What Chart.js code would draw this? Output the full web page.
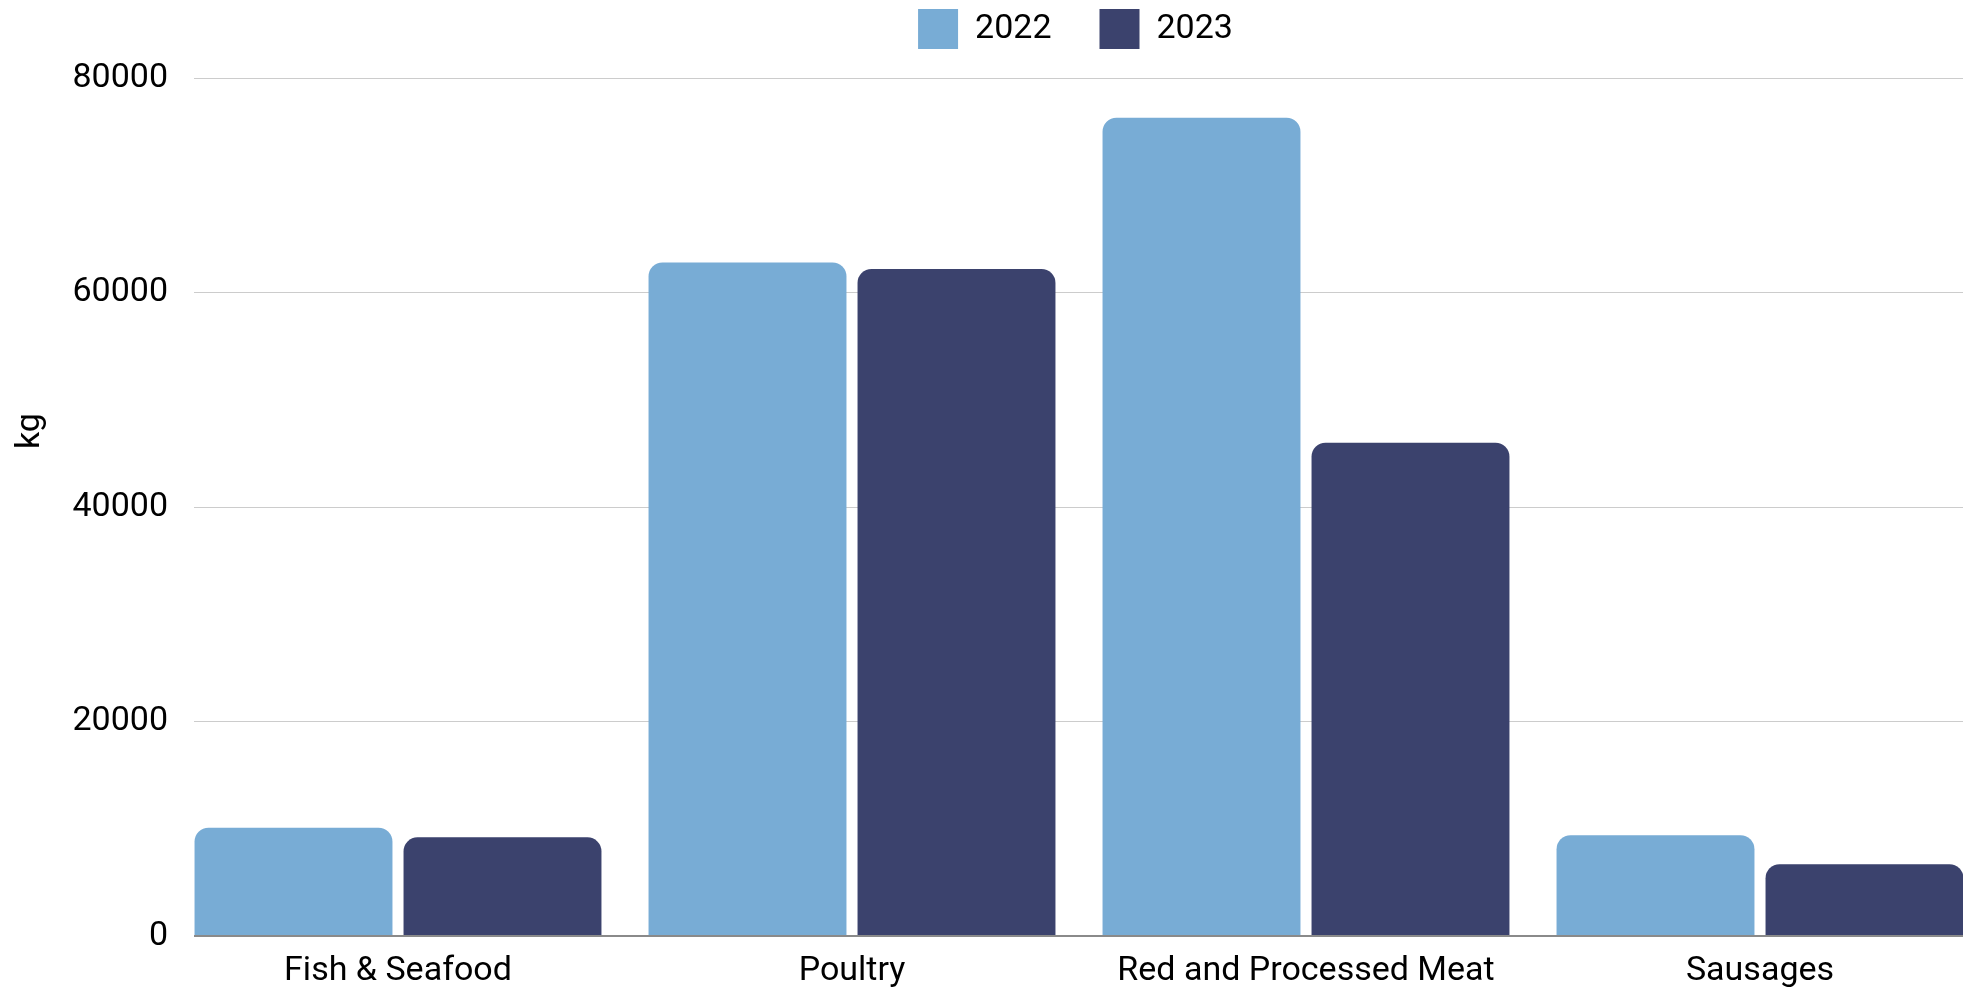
<!DOCTYPE html>
<html>
<head>
<meta charset="utf-8">
<script src="https://cdn.jsdelivr.net/npm/chart.js@4/dist/chart.umd.min.js"></script>
<style>
    html, body { margin: 0; padding: 0; background: #fff; overflow: hidden; }
    canvas { display: block; }
</style>
</head>
<body>
<canvas id="histogramme" width="1987" height="990"></canvas>
<script>
// données
var categories = ['Fish & Seafood', 'Poultry', 'Red and Processed Meat', 'Sausages'];
var annees = ['2022', '2023'];
var valeurs2022 = [10100, 62800, 76300, 9400];
var valeurs2023 = [9200, 62200, 46000, 6700];
var graduations = [0, 20000, 40000, 60000, 80000];

var couleurs = ['#78acd5', '#3b426d'];

// retouches de mise en page (légende centrée sur la zone du graphique, grille qui commence au premier bâton)
var reglages = {
    id: 'reglages',
    beforeInit: function (chart) {
        var fit = chart.legend.fit;
        chart.legend.fit = function () {
            fit.call(this);
            this.height = 78;
        };
    },
    afterLayout: function (chart) {
        var lg = chart.legend;
        var a = chart.chartArea;
        lg.left = a.left;
        lg.right = a.right - 7;
        lg.width = lg.right - lg.left;
        // la légende est découpée à sa propre zone : on la garde assez haute
        lg.top = -39;
        lg.bottom = a.top;
    },
    beforeDatasetsDraw: function (chart) {
        var a = chart.chartArea;
        var ctx = chart.ctx;
        ctx.save();
        ctx.fillStyle = '#fff';
        ctx.fillRect(a.left - 1, a.top - 2, 24, a.bottom - a.top + 4);
        ctx.restore();
    }
};

Chart.defaults.font.family = 'Roboto';
Chart.defaults.font.size = 34;
Chart.defaults.color = '#000';

var ctx = document.getElementById('histogramme');

var myChart = new Chart(ctx, {
    type: 'bar',
    data: {
        labels: categories,
        datasets: [{
            label: annees[0],
            data: valeurs2022,
            backgroundColor: couleurs[0],
            borderRadius: 14,
            borderSkipped: 'start'
        }, {
            label: annees[1],
            data: valeurs2023,
            backgroundColor: couleurs[1],
            borderRadius: 14,
            borderSkipped: 'start'
        }]
    },
    options: {
        responsive: false,
        maintainAspectRatio: false,
        animation: false,
        categoryPercentage: 0.9207,
        barPercentage: 0.947,
        layout: { padding: 0 },
        plugins: {
            legend: {
                position: 'top',
                labels: {
                    boxWidth: 40,
                    boxHeight: 40,
                    padding: 48,
                    font: { size: 34 }
                }
            },
            tooltip: { enabled: false }
        },
        scales: {
            x: {
                grid: { display: false },
                border: { display: false },
                ticks: { padding: 7, maxRotation: 0, autoSkip: false },
                afterFit: function (scale) { scale.height = 54; }
            },
            y: {
                min: 0,
                max: 80000,
                afterBuildTicks: function (scale) {
                    scale.ticks = graduations.map(function (v) { return { value: v }; });
                },
                ticks: {
                    padding: 3,
                    callback: function (v) { return String(v); }
                },
                grid: {
                    drawTicks: false,
                    color: function (c) { return c.tick && c.tick.value === 0 ? '#8a8a8a' : '#cccccc'; },
                    lineWidth: function (c) { return c.tick && c.tick.value === 0 ? 2 : 1; }
                },
                border: { display: false },
                title: {
                    display: true,
                    text: '                  kg',
                    padding: { top: 10, bottom: 0 },
                    font: { size: 34 }
                },
                afterFit: function (scale) { scale.width = 171; }
            }
        }
    },
    plugins: [reglages]
});
</script>
</body>
</html>
